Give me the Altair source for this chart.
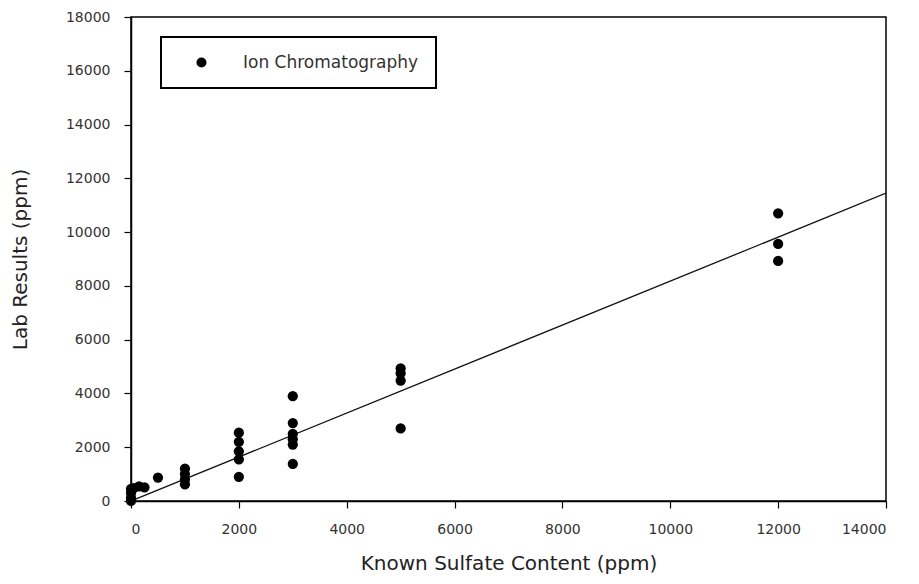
import altair as alt
import pandas as pd

# Data
known_x = [0, 0, 0, 0, 50, 150, 250, 500,
           1000, 1000, 1000, 1000,
           2000, 2000, 2000, 2000, 2000,
           3000, 3000, 3000, 3000, 3000, 3000,
           5000, 5000, 5000, 5000,
           12000, 12000, 12000]
lab_y = [0, 120, 300, 450, 480, 540, 510, 870,
         1200, 1000, 800, 620,
         2540, 2200, 1850, 1550, 900,
         3900, 2900, 2500, 2300, 2100, 1380,
         4930, 4750, 4480, 2700,
         10700, 9560, 8930]
series_name = "Ion Chromatography"

fit_x = [0, 14000]
fit_y = [0, 11450]

x_ticks = list(range(0, 14001, 2000))
y_ticks = list(range(0, 18001, 2000))

pts = pd.DataFrame({"x": known_x, "y": lab_y, "s": [series_name] * len(known_x)})
fit = pd.DataFrame({"x": fit_x, "y": fit_y})

FONT = "DejaVu Sans"

x_scale = alt.Scale(domain=[0, 14000], nice=False, zero=False)
y_scale = alt.Scale(domain=[0, 18000], nice=False, zero=False)

x_axis = alt.Axis(
    values=x_ticks, format="d", title="Known Sulfate Content (ppm)",
    titleX=377.5, titleY=68, titleAlign="center", titleBaseline="alphabetic",
)
y_axis = alt.Axis(
    values=y_ticks, format="d", title="Lab Results (ppm)",
    titleX=-111, titleY=242, titleAlign="center", titleBaseline="middle",
    titleAngle=270,
)

line = alt.Chart(fit).mark_line(color="#111", strokeWidth=1.3, clip=True).encode(
    x=alt.X("x:Q", scale=x_scale, axis=x_axis),
    y=alt.Y("y:Q", scale=y_scale, axis=y_axis),
)

points = alt.Chart(pts).mark_point(filled=True, size=105, opacity=1, shape="circle").encode(
    x=alt.X("x:Q", scale=x_scale),
    y=alt.Y("y:Q", scale=y_scale),
    color=alt.Color(
        "s:N",
        scale=alt.Scale(domain=[series_name], range=["#000000"]),
        legend=alt.Legend(
            title=None, orient="none", legendX=30, legendY=20,
            padding=17, symbolOffset=15, symbolSize=100, symbolType="circle",
            labelOffset=33, labelFontSize=17, labelFont=FONT, labelColor="#333",
            labelLimit=400,
            strokeColor="#000", symbolStrokeWidth=0,
        ),
    ),
)

chart = (
    alt.layer(line, points)
    .properties(
        width=755, height=484,
        autosize=alt.AutoSizeParams(type="none"),
        padding={"left": 123, "top": 9, "right": 25, "bottom": 75},
        background="white",
    )
    .configure_view(stroke="#000", strokeWidth=1.5)
    .configure_axis(
        grid=False, domainColor="#000", domainWidth=1.5,
        tickColor="#000", tickWidth=1.2, tickSize=7,
        labelFont=FONT, labelFontSize=14, labelColor="#333", labelPadding=14,
        titleFont=FONT, titleFontSize=20, titleFontWeight="normal", titleColor="#222",
    )
    .configure_legend(strokeWidth=2)
)

chart.save("out.html", embed_options={"renderer": "svg", "actions": False})
